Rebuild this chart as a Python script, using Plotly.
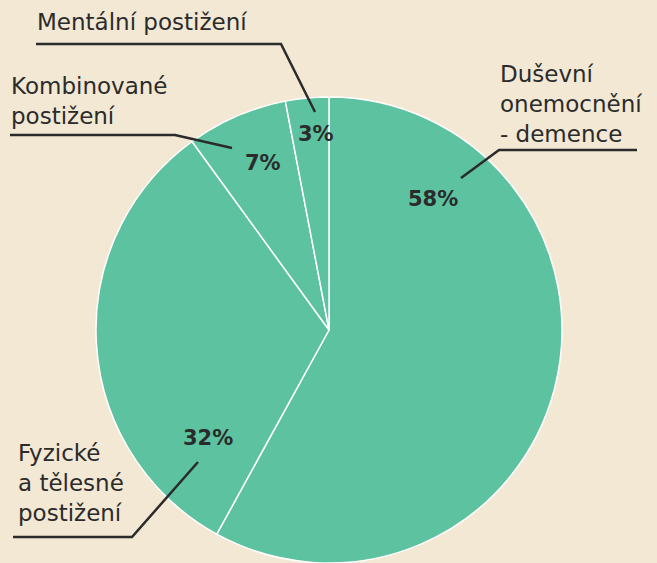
import plotly.graph_objects as go

W, H = 657, 563

# data
categories = ["Duševní onemocnění - demence", "Fyzické a tělesné postižení",
              "Kombinované postižení", "Mentální postižení"]
values = [58, 32, 7, 3]
label_lines = [
    ["Duševní", "onemocnění", "- demence"],
    ["Fyzické", "a tělesné", "postižení"],
    ["Kombinované", "postižení"],
    ["Mentální postižení"],
]

GREEN = "#5cc2a0"
BG = "#f2e8d4"
INK = "#2b2b2b"
FONT = "DejaVu Sans"


def px(x):
    return x / W


def py(y):
    return 1 - y / H


# pie in pixel coords: center (329, 330), radius 233
cx, cy, r = 329, 330, 233

fig = go.Figure(
    go.Pie(
        labels=categories,
        values=values,
        sort=False,
        direction="clockwise",
        rotation=0,
        textinfo="none",
        hoverinfo="label+percent",
        marker=dict(colors=[GREEN] * len(values), line=dict(color="white", width=1.5)),
        domain=dict(x=[px(cx - r), px(cx + r)], y=[py(cy + r), py(cy - r)]),
        showlegend=False,
    )
)

# percent label positions (px)
pct_pos = [(433, 199), (208, 438), (263, 163), (316, 134)]
# category label anchors: left x, block centre y
lab_pos = [(499, 104), (17, 483), (10, 101), (36, 22)]
# leader lines (px)
leaders = [
    [(637, 150), (499, 150), (461, 178)],
    [(13, 537), (132, 537), (198, 462)],
    [(10, 135), (175, 135), (232, 148)],
    [(36, 44), (281, 44), (315, 112)],
]

total = sum(values)
annotations = []
shapes = []
for i, v in enumerate(values):
    x, y = pct_pos[i]
    annotations.append(dict(
        x=px(x), y=py(y), xref="paper", yref="paper",
        text=f"<b>{round(100 * v / total)}%</b>", showarrow=False,
        font=dict(family=FONT, size=21, color=INK),
        xanchor="center", yanchor="middle",
    ))
    lx, ly = lab_pos[i]
    annotations.append(dict(
        x=px(lx - 1), y=py(ly), xref="paper", yref="paper",
        text="<br>".join(label_lines[i]), showarrow=False, align="left",
        font=dict(family=FONT, size=23, color=INK),
        xanchor="left", yanchor="middle",
    ))
    pts = leaders[i]
    path = "M " + " L ".join(f"{px(a)},{py(b)}" for a, b in pts)
    shapes.append(dict(type="path", path=path, xref="paper", yref="paper",
                       line=dict(color=INK, width=2.5)))

fig.update_layout(
    width=W, height=H,
    margin=dict(l=0, r=0, t=0, b=0),
    paper_bgcolor=BG, plot_bgcolor=BG,
    annotations=annotations,
    shapes=shapes,
)

# drop the default page margin so the figure fills the window
fig.write_html("out.html", config={"displayModeBar": False},
               post_script="document.body.style.margin='0';")
